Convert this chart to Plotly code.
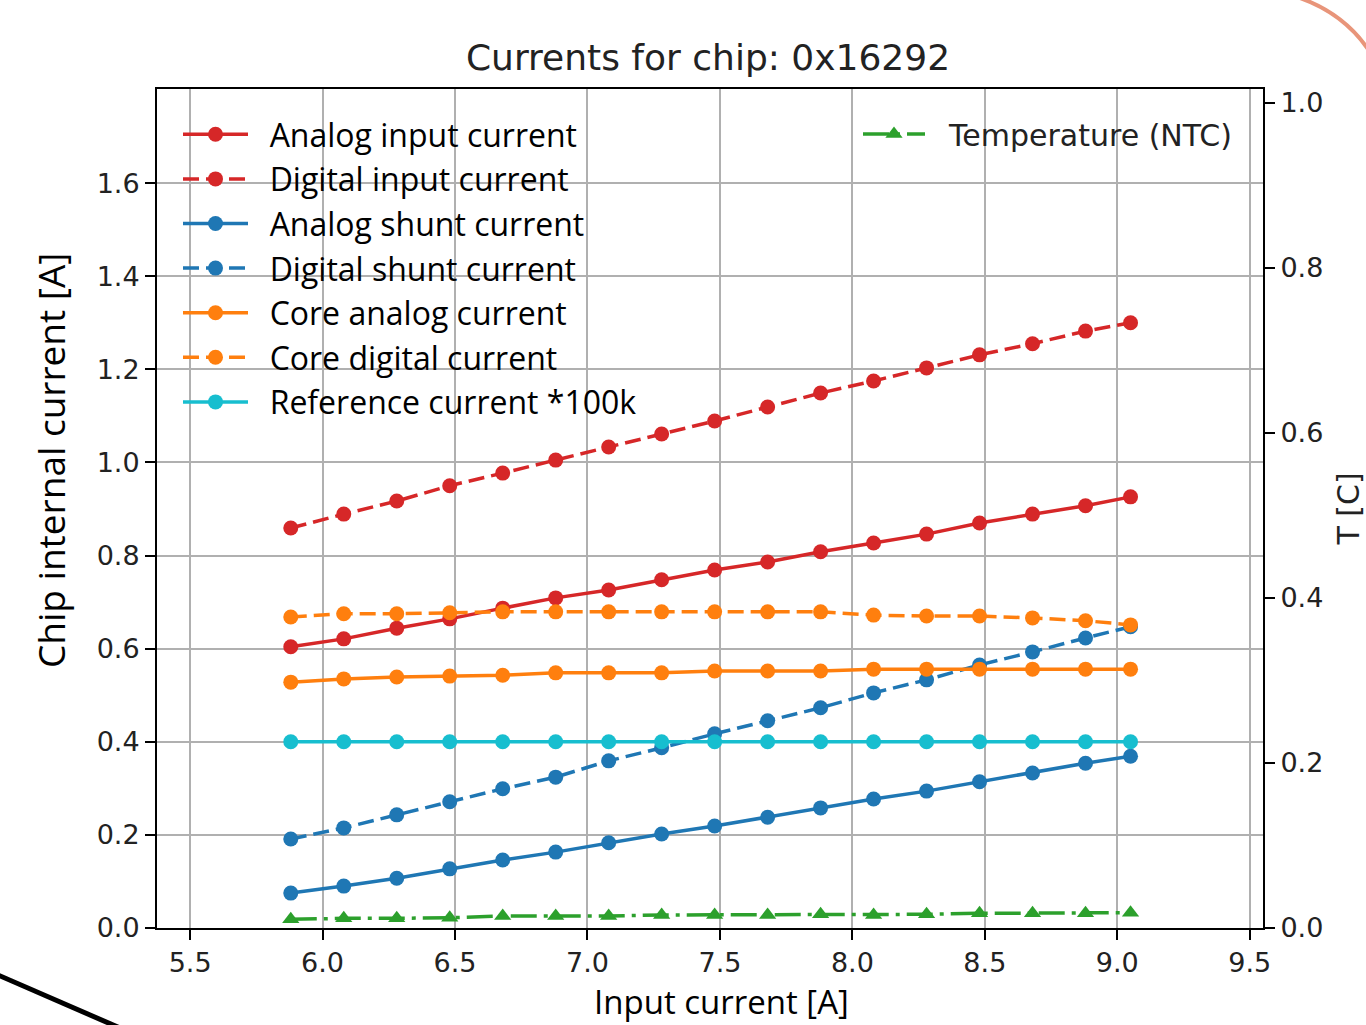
import plotly.graph_objects as go

# ---- data ----
input_current = [5.88, 6.08, 6.28, 6.48, 6.68, 6.88, 7.08, 7.28, 7.48, 7.68, 7.88,
                 8.08, 8.28, 8.48, 8.68, 8.88, 9.05]
analog_input = [0.604, 0.621, 0.644, 0.664, 0.687, 0.709, 0.726, 0.748, 0.769, 0.786,
                0.808, 0.827, 0.846, 0.870, 0.889, 0.907, 0.926]
digital_input = [0.859, 0.889, 0.917, 0.950, 0.977, 1.005, 1.033, 1.061, 1.089, 1.119,
                 1.149, 1.175, 1.203, 1.231, 1.255, 1.282, 1.300]
analog_shunt = [0.075, 0.090, 0.107, 0.127, 0.146, 0.163, 0.183, 0.202, 0.219, 0.238,
                0.258, 0.277, 0.294, 0.314, 0.333, 0.354, 0.369]
digital_shunt = [0.191, 0.215, 0.243, 0.271, 0.299, 0.324, 0.359, 0.387, 0.417, 0.445,
                 0.473, 0.505, 0.533, 0.565, 0.593, 0.623, 0.647]
core_analog = [0.528, 0.535, 0.539, 0.541, 0.543, 0.548, 0.548, 0.548, 0.552, 0.552,
               0.552, 0.556, 0.556, 0.556, 0.556, 0.556, 0.556]
core_digital = [0.668, 0.675, 0.675, 0.677, 0.679, 0.679, 0.679, 0.679, 0.679, 0.679,
                0.679, 0.672, 0.670, 0.670, 0.666, 0.660, 0.651]
reference_100k = [0.40, 0.40, 0.40, 0.40, 0.40, 0.40, 0.40, 0.40, 0.40, 0.40,
                  0.40, 0.40, 0.40, 0.40, 0.40, 0.40, 0.40]
temperature = [0.0105, 0.0117, 0.0117, 0.0125, 0.0145, 0.0145, 0.0145, 0.0158, 0.0158,
               0.0158, 0.0166, 0.0158, 0.0166, 0.0178, 0.0178, 0.0178, 0.0186]

x_ticks = [5.5, 6.0, 6.5, 7.0, 7.5, 8.0, 8.5, 9.0, 9.5]
x_ticktext = ["5.5", "6.0", "6.5", "7.0", "7.5", "8.0", "8.5", "9.0", "9.5"]
y_ticks = [0.0, 0.2, 0.4, 0.6, 0.8, 1.0, 1.2, 1.4, 1.6]
y2_ticks = [0.0, 0.2, 0.4, 0.6, 0.8, 1.0]

RED, BLUE, ORANGE, CYAN, GREEN = "#d62728", "#1f77b4", "#ff7f0e", "#17becf", "#2ca02c"
DASH = "16px,7px"
DASHDOT = "26px,7px,4px,7px"
LW = 3.5
MS = 15
GAP = "\u00a0\u00a0"  # visual gap between legend symbol and text

series = [
    ("Analog input current", analog_input, RED, "solid"),
    ("Digital input current", digital_input, RED, DASH),
    ("Analog shunt current", analog_shunt, BLUE, "solid"),
    ("Digital shunt current", digital_shunt, BLUE, DASH),
    ("Core analog current", core_analog, ORANGE, "solid"),
    ("Core digital current", core_digital, ORANGE, DASH),
    ("Reference current *100k", reference_100k, CYAN, "solid"),
]

fig = go.Figure()
for name, vals, col, dash in series:
    fig.add_trace(go.Scatter(
        x=input_current, y=vals, name=GAP + name, mode="lines+markers",
        line=dict(color=col, width=LW, dash=dash),
        marker=dict(symbol="circle", size=MS, color=col),
        legend="legend", hovertemplate=name + ": %{y}<extra></extra>",
    ))

fig.add_trace(go.Scatter(
    x=input_current, y=temperature, name=GAP + "Temperature (NTC)", mode="lines+markers",
    line=dict(color=GREEN, width=LW, dash=DASHDOT),
    marker=dict(symbol="triangle-up", size=MS, color=GREEN),
    yaxis="y2", legend="legend2",
    hovertemplate="Temperature (NTC): %{y}<extra></extra>",
))

W, H = 1366, 1025
L, R, T, B = 157, 1263, 89, 928


def px(x):
    return (x - L) / (R - L)


def py(y):
    return (B - y) / (B - T)


axis_common = dict(
    showline=True, linecolor="black", linewidth=2,
    ticks="outside", ticklen=10, tickwidth=2, tickcolor="black",
    tickfont=dict(family="DejaVu Sans", size=27, color="#222222"),
    zeroline=False,
)

fig.update_layout(
    width=W, height=H,
    margin=dict(l=L, r=W - R, t=T, b=H - B, autoexpand=False),
    paper_bgcolor="white", plot_bgcolor="white",
    title=dict(text="Currents for chip: 0x16292", x=px(708), xref="paper",
               y=1 - 57 / H, yref="container", yanchor="middle", xanchor="center",
               font=dict(family="DejaVu Sans", size=36, color="#222222")),
    xaxis=dict(range=[5.375, 9.55], tickvals=x_ticks, ticktext=x_ticktext,
               showgrid=True, gridcolor="#b0b0b0", gridwidth=2, mirror=True,
               **axis_common),
    yaxis=dict(range=[0, 1.802], tickvals=y_ticks, tickformat=".1f",
               showgrid=True, gridcolor="#b0b0b0", gridwidth=2, mirror=True,
               **axis_common),
    yaxis2=dict(range=[0, 1.017], tickvals=y2_ticks, tickformat=".1f",
                overlaying="y", side="right", showgrid=False,
                title=dict(text="T [C]", standoff=20,
                           font=dict(family="DejaVu Sans", size=30, color="#222222")),
                **axis_common),
    legend=dict(x=px(178), y=py(107), xanchor="left", yanchor="top",
                bgcolor="rgba(0,0,0,0)", borderwidth=0,
                font=dict(family="Open Sans", size=32, color="black"),
                itemwidth=65, traceorder="normal"),
    legend2=dict(x=px(858), y=py(108), xanchor="left", yanchor="top",
                 bgcolor="rgba(0,0,0,0)", borderwidth=0,
                 font=dict(family="DejaVu Sans", size=30, color="#222222"),
                 itemwidth=62),
    showlegend=True,
)

# axis titles (placed as in the reference)
fig.add_annotation(text="Input current [A]", xref="paper", yref="paper",
                   x=px(721), y=py(1025), xanchor="center", yanchor="bottom",
                   showarrow=False, borderpad=0,
                   font=dict(family="Open Sans", size=33, color="black"))
fig.add_annotation(text="Chip internal current [A]", xref="paper", yref="paper",
                   x=px(50), y=py(461), xanchor="center", yanchor="middle",
                   textangle=-90, showarrow=False,
                   font=dict(family="Open Sans", size=37, color="black"))

# white box behind the left legend text (covers gridlines only)
fig.add_shape(type="rect", xref="paper", yref="paper",
              x0=px(252), x1=px(648), y0=py(426), y1=py(102),
              fillcolor="white", line=dict(width=0), layer="between")

# slide decorations outside the chart
fig.add_shape(type="line", xref="paper", yref="paper",
              x0=px(-2), y0=py(975), x1=px(120), y1=py(1028),
              line=dict(color="black", width=5))
fig.add_shape(type="path", xref="paper", yref="paper",
              path="M %f %f Q %f %f %f %f" % (px(1300), py(-2), px(1345), py(14), px(1370), py(52)),
              line=dict(color="#e8957a", width=4))

fig.write_html("out.html", config={"displayModeBar": False},
               post_script="document.body.style.margin='0';document.body.style.overflow='hidden';")
